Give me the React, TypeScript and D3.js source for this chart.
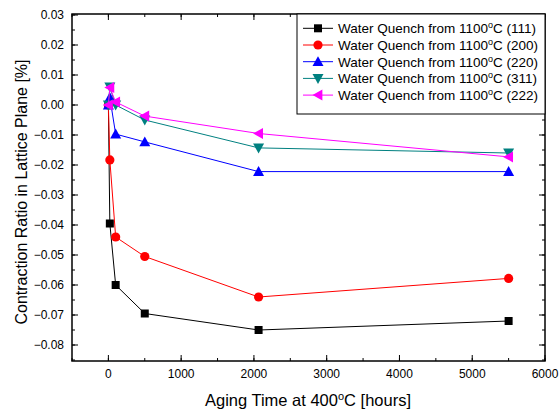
import React from "react";
import * as d3 from "d3";

const hours = [0, 20, 100, 500, 2064, 5500];
const s111 = [0, -0.0395, -0.06, -0.0695, -0.075, -0.072];
const s200 = [0, -0.0183, -0.044, -0.0505, -0.064, -0.0578];
const s220 = [0, 0.0025, -0.0097, -0.0123, -0.0222, -0.0222];
const s311 = [0, 0.006, 0.0, -0.005, -0.0143, -0.016];
const s222 = [0, 0.0058, 0.001, -0.0037, -0.0095, -0.0173];
const planes = ["(111)", "(200)", "(220)", "(311)", "(222)"];
const colors = ["#000000", "#ff0000", "#0000ff", "#008080", "#ff00ff"];
const shapes = ["square", "circle", "up", "down", "left"];
const xTicks = [0, 1000, 2000, 3000, 4000, 5000, 6000];
const yTicks = [0.03, 0.02, 0.01, 0.0, -0.01, -0.02, -0.03, -0.04, -0.05, -0.06, -0.07, -0.08];

const W = 560, H = 416;
const L = 72, R = 545, T = 14, B = 361;

function Marker({ shape, x, y, color }: { shape: string; x: number; y: number; color: string }) {
  if (shape === "square") return <rect x={x - 4} y={y - 4} width={8} height={8} fill={color} />;
  if (shape === "circle") return <circle cx={x} cy={y} r={4.6} fill={color} />;
  const s = 5.5;
  let pts = "";
  if (shape === "up") pts = `${x},${y - s} ${x + s},${y + s * 0.8} ${x - s},${y + s * 0.8}`;
  if (shape === "down") pts = `${x},${y + s} ${x + s},${y - s * 0.8} ${x - s},${y - s * 0.8}`;
  if (shape === "left") pts = `${x - s},${y} ${x + s * 0.8},${y - s} ${x + s * 0.8},${y + s}`;
  return <polygon points={pts} fill={color} />;
}

export default function App() {
  const series = [s111, s200, s220, s311, s222];
  const x = d3.scaleLinear().domain([-500, 6000]).range([L, R]);
  const y = d3.scaleLinear().domain([-0.085, 0.03]).range([B - 1, T + 1]);
  const line = d3
    .line<[number, number]>()
    .x((d) => x(d[0]))
    .y((d) => y(d[1]));
  const xMinor = d3.range(-500, 6001, 500);
  const yMinor = d3.range(-0.085, 0.0301, 0.005);
  const font = "Liberation Sans, Arial, sans-serif";
  const legX = 297, legY = 14, legW = 248, legH = 100;
  return (
    <div style={{ position: "absolute", left: 0, top: 0, width: W, height: H, overflow: "hidden" }}>
      <svg width={W} height={H} style={{ display: "block", background: "#fff" }} fontFamily={font}>
        <rect x={0} y={0} width={W} height={H} fill="#fff" />
        {xMinor.map((v, i) => (
          <g key={"xm" + i} stroke="#000" strokeWidth={1}>
            <line x1={x(v)} x2={x(v)} y1={B} y2={B - 3} />
            <line x1={x(v)} x2={x(v)} y1={T} y2={T + 3} />
          </g>
        ))}
        {yMinor.map((v, i) => (
          <g key={"ym" + i} stroke="#000" strokeWidth={1}>
            <line x1={L} x2={L + 3} y1={y(v)} y2={y(v)} />
            <line x1={R} x2={R - 3} y1={y(v)} y2={y(v)} />
          </g>
        ))}
        {xTicks.map((v) => (
          <g key={"xt" + v}>
            <line x1={x(v)} x2={x(v)} y1={B} y2={B - 6} stroke="#000" />
            <line x1={x(v)} x2={x(v)} y1={T} y2={T + 6} stroke="#000" />
            <text x={x(v)} y={378} textAnchor="middle" fontSize={12}>
              {v}
            </text>
          </g>
        ))}
        {yTicks.map((v) => (
          <g key={"yt" + v}>
            <line x1={L} x2={L + 6} y1={y(v)} y2={y(v)} stroke="#000" />
            <line x1={R} x2={R - 6} y1={y(v)} y2={y(v)} stroke="#000" />
            <text x={64} y={y(v) + 4} textAnchor="end" fontSize={12}>
              {d3.format(".2f")(Math.abs(v) < 1e-9 ? 0 : v)}
            </text>
          </g>
        ))}
        {series.map((s, i) => {
          const data = hours.map((h, j) => [h, s[j]] as [number, number]);
          return (
            <g key={"s" + i}>
              <path d={line(data) || ""} fill="none" stroke={colors[i]} strokeWidth={1} />
              {data.map((d, j) => (
                <Marker key={j} shape={shapes[i]} x={x(d[0])} y={y(d[1])} color={colors[i]} />
              ))}
            </g>
          );
        })}
        <rect x={L} y={T} width={R - L} height={B - T} fill="none" stroke="#000" strokeWidth={1.5} />
        <rect x={legX} y={legY} width={legW} height={legH} fill="#fff" stroke="#000" strokeWidth={1} />
        {planes.map((p, i) => {
          const cy = 28.3 + i * 16.7;
          return (
            <g key={"lg" + i}>
              <line x1={303} x2={333} y1={cy} y2={cy} stroke={colors[i]} />
              <Marker shape={shapes[i]} x={318} y={cy} color={colors[i]} />
              <text x={338} y={cy + 4.8} fontSize={13.5}>
                Water Quench from 1100
                <tspan dy={-5} fontSize={9}>o</tspan>
                <tspan dy={5}>C {p}</tspan>
              </text>
            </g>
          );
        })}
        <text x={308} y={406} textAnchor="middle" fontSize={16.5}>
          Aging Time at 400
          <tspan dy={-6} fontSize={11}>o</tspan>
          <tspan dy={6}>C [hours]</tspan>
        </text>
        <text transform={`translate(27,${192}) rotate(-90)`} textAnchor="middle" fontSize={16}>
          Contraction Ratio in Lattice Plane [%]
        </text>
      </svg>
    </div>
  );
}
